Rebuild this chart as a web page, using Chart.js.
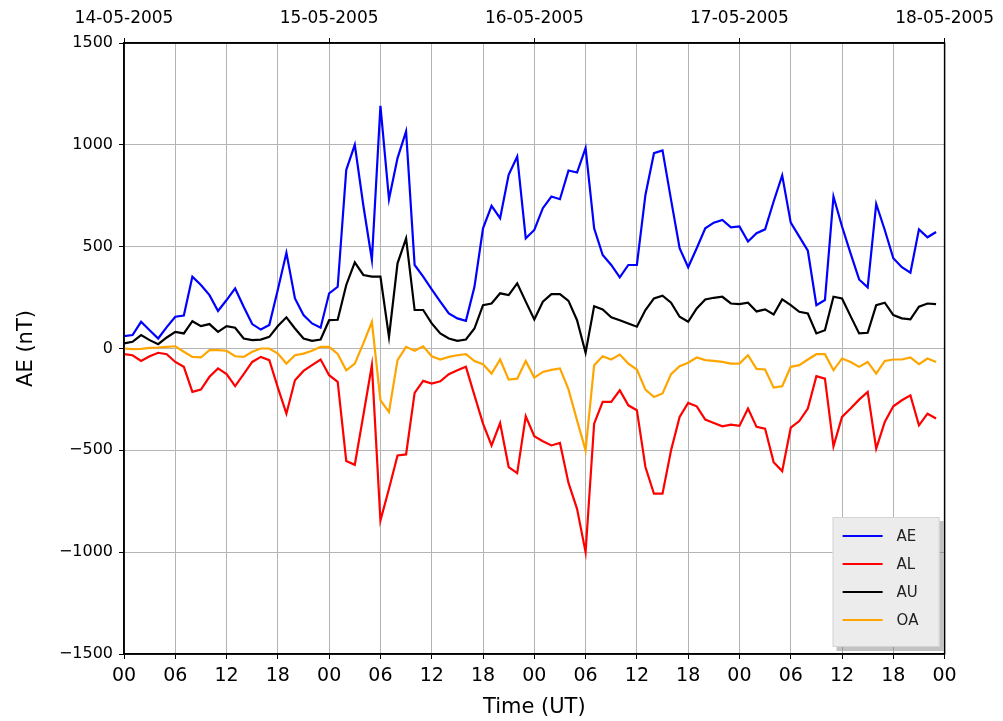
<!DOCTYPE html>
<html>
<head>
<meta charset="utf-8">
<title>AE index 14-18 May 2005</title>
<script src="https://cdn.jsdelivr.net/npm/chart.js@4/dist/chart.umd.min.js"></script>
<style>
  html, body { margin: 0; padding: 0; background: #fff; }
  #wrap { width: 1003px; height: 721px; }
</style>
</head>
<body>
<div id="wrap"><canvas id="ae"></canvas></div>
<script>
// hourly values, 14-05-2005 00 UT to 17-05-2005 23 UT
var dates = ["14-05-2005", "15-05-2005", "16-05-2005", "17-05-2005", "18-05-2005"];

var ae = [61, 66, 131, 90, 49, 105, 156, 162, 353, 312, 262, 184, 238, 295, 205, 120, 93, 115, 290, 470, 246, 164, 123, 102,
  271, 303, 877, 1000, 702, 435, 1192, 733, 935, 1066, 410, 353, 290, 230, 172, 148, 136, 303, 590, 700, 640, 853, 943, 541,
  582, 689, 746, 733, 874, 864, 984, 590, 459, 410, 349, 410, 410, 754, 959, 973, 730, 492, 399, 492, 590, 618, 631, 595,
  599, 525, 566, 585, 722, 850, 618, 549, 480, 213, 238, 746, 599, 467, 339, 300, 710, 582, 443, 399, 372, 585, 546, 572];

var al = [-28, -33, -61, -38, -21, -28, -66, -90, -213, -202, -139, -98, -126, -185, -126, -66, -41, -57, -192, -320, -156, -110, -82, -54,
  -131, -164, -552, -571, -328, -82, -845, -689, -525, -520, -218, -159, -172, -161, -126, -107, -90, -230, -369, -476, -366, -582, -612, -333,
  -431, -455, -476, -464, -660, -787, -1000, -369, -262, -262, -205, -279, -303, -582, -713, -713, -500, -336, -267, -284, -349, -366, -382, -374,
  -380, -295, -385, -394, -558, -602, -389, -356, -295, -136, -148, -480, -336, -295, -251, -213, -492, -361, -284, -254, -230, -377, -320, -344];

var au = [25, 33, 66, 41, 21, 54, 82, 74, 134, 110, 120, 82, 110, 102, 49, 41, 44, 57, 110, 153, 98, 49, 38, 44,
  139, 141, 312, 423, 361, 353, 353, 57, 418, 541, 189, 189, 123, 74, 49, 38, 44, 98, 213, 221, 271, 262, 320, 230,
  143, 230, 267, 267, 234, 139, -21, 208, 192, 153, 139, 123, 107, 189, 246, 259, 225, 156, 131, 197, 241, 249, 254, 221,
  218, 225, 182, 192, 167, 241, 213, 180, 172, 74, 90, 254, 246, 159, 74, 77, 213, 225, 164, 148, 143, 205, 221, 218];

var oa = [0, -3, -2, 3, 5, 8, 11, -16, -41, -44, -8, -8, -11, -38, -41, -16, 0, 0, -25, -74, -33, -25, -11, 8,
  8, -27, -107, -74, 25, 131, -254, -312, -57, 8, -11, 11, -38, -54, -41, -33, -28, -62, -77, -123, -54, -153, -148, -61,
  -143, -115, -105, -98, -201, -353, -500, -82, -38, -54, -30, -74, -103, -202, -238, -221, -126, -87, -70, -44, -57, -61, -66, -74,
  -74, -33, -100, -103, -192, -185, -90, -82, -54, -28, -28, -107, -49, -66, -90, -66, -123, -61, -54, -54, -44, -77, -49, -66];

var names = ["AE", "AL", "AU", "OA"];
var colors = ["#0000ff", "#ff0000", "#000000", "#ffa500"];
var series = [ae, al, au, oa];

function pts(arr) {
  return arr.map(function (v, i) { return { x: i, y: v }; });
}

var font = "'DejaVu Sans', sans-serif";

// framed axes box plus a matplotlib-style legend in the lower right corner
var boxLegend = {
  id: "boxLegend",
  afterDraw: function (chart) {
    var ctx = chart.ctx, a = chart.chartArea;
    ctx.save();
    ctx.strokeStyle = "#000";
    ctx.lineWidth = 1.5;
    ctx.strokeRect(a.left, a.top, a.right - a.left, a.bottom - a.top);

    var w = 107, h = 130;
    var x0 = a.right - w - 5, y0 = a.bottom - h - 7;
    ctx.fillStyle = "rgba(120,120,120,0.45)";
    ctx.fillRect(x0 + 4, y0 + 4, w, h);
    ctx.fillStyle = "#ececec";
    ctx.fillRect(x0, y0, w, h);
    ctx.strokeStyle = "#d4d4d4";
    ctx.lineWidth = 1;
    ctx.strokeRect(x0 + 0.5, y0 + 0.5, w - 1, h - 1);

    ctx.font = "15px " + font;
    ctx.textBaseline = "middle";
    chart.data.datasets.forEach(function (ds, i) {
      var yy = y0 + 19 + i * 28;
      ctx.strokeStyle = ds.borderColor;
      ctx.lineWidth = 2;
      ctx.beginPath();
      ctx.moveTo(x0 + 10, yy);
      ctx.lineTo(x0 + 50, yy);
      ctx.stroke();
      ctx.fillStyle = "#222";
      ctx.fillText(ds.label, x0 + 64, yy + 1);
    });
    ctx.restore();
  }
};

new Chart(document.getElementById("ae"), {
  type: "line",
  data: {
    datasets: series.map(function (s, i) {
      return {
        label: names[i],
        data: pts(s),
        borderColor: colors[i],
        backgroundColor: colors[i],
        borderWidth: 2.2,
        pointRadius: 0,
        tension: 0,
        xAxisID: "x",
        yAxisID: "y"
      };
    })
  },
  options: {
    responsive: true,
    maintainAspectRatio: false,
    animation: false,
    layout: { padding: { left: 0, right: 58, top: 0, bottom: 0 } },
    plugins: { legend: { display: false }, tooltip: { enabled: false } },
    scales: {
      x: {
        type: "linear",
        position: "bottom",
        min: 0,
        max: 96,
        afterFit: function (s) { s.height = 67; },
        ticks: {
          stepSize: 6,
          autoSkip: false,
          maxRotation: 0,
          padding: 6,
          color: "#000",
          font: { family: font, size: 19 },
          callback: function (v) {
            var hh = v % 24;
            return (hh < 10 ? "0" : "") + hh;
          }
        },
        grid: { color: "#b4b4b4", lineWidth: 1, tickColor: "#000", tickLength: 5 },
        border: { color: "#000", width: 1.5 },
        title: {
          display: true,
          text: "Time (UT)",
          color: "#000",
          font: { family: font, size: 21 },
          padding: { top: 0, bottom: 1 }
        }
      },
      x2: {
        type: "linear",
        position: "top",
        min: 0,
        max: 96,
        afterFit: function (s) { s.height = 43; },
        ticks: {
          stepSize: 24,
          autoSkip: false,
          maxRotation: 0,
          padding: 9,
          color: "#000",
          font: { family: font, size: 17 },
          callback: function (v) { return dates[v / 24]; }
        },
        grid: { drawOnChartArea: false, tickColor: "#000", tickLength: 5 },
        border: { color: "#000", width: 1.5 }
      },
      y: {
        min: -1500,
        max: 1500,
        afterFit: function (s) { s.width = 124; },
        ticks: {
          stepSize: 500,
          padding: 6,
          color: "#000",
          font: { family: font, size: 16 },
          callback: function (v) { return v < 0 ? "\u2212" + Math.abs(v) : String(v); }
        },
        grid: { color: "#b4b4b4", lineWidth: 1, tickColor: "#000", tickLength: 5 },
        border: { color: "#000", width: 1.5 },
        title: {
          display: true,
          text: "AE (nT)",
          color: "#000",
          font: { family: font, size: 21 },
          padding: { top: 14, bottom: 0 }
        }
      }
    }
  },
  plugins: [boxLegend]
});
</script>
</body>
</html>
